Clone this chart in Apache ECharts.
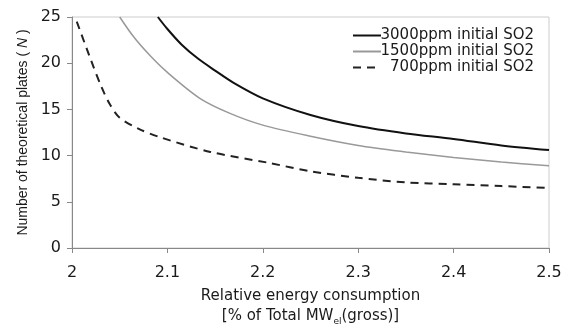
<!DOCTYPE html>
<html>
<head>
<meta charset="utf-8">
<script src="https://cdn.jsdelivr.net/npm/echarts@6/dist/echarts.min.js"></script>
<style>
  html, body { margin: 0; padding: 0; background: #fff; }
  #main { width: 565px; height: 331px; }
</style>
</head>
<body>
<div id="main"></div>
<script>
// values
const seriesNames = ['3000ppm initial SO2', '1500ppm initial SO2', '700ppm initial SO2'];

const x3000 = [2.09, 2.1, 2.115, 2.132, 2.15, 2.169, 2.2, 2.25, 2.3, 2.35, 2.4, 2.45, 2.5];
const y3000 = [25, 23.7, 22.0, 20.5, 19.2, 17.9, 16.2, 14.4, 13.2, 12.4, 11.8, 11.1, 10.6];

const x1500 = [2.05, 2.065, 2.082, 2.1, 2.134, 2.165, 2.2, 2.25, 2.3, 2.35, 2.4, 2.45, 2.5];
const y1500 = [25, 22.8, 20.8, 19.0, 16.2, 14.6, 13.3, 12.1, 11.1, 10.4, 9.8, 9.3, 8.9];

const x700 = [2.005, 2.02, 2.031, 2.04, 2.05, 2.07, 2.092, 2.145, 2.207, 2.25, 2.3, 2.35, 2.4, 2.45, 2.5];
const y700 = [24.5, 20.3, 17.4, 15.5, 14.1, 12.9, 12.0, 10.4, 9.2, 8.3, 7.6, 7.1, 6.9, 6.7, 6.5];

const xTicks = [2, 2.1, 2.2, 2.3, 2.4, 2.5];
const yTicks = [0, 5, 10, 15, 20, 25];

function pairs(xs, ys) {
    return xs.map(function (x, i) { return [x, ys[i]]; });
}

document.addEventListener('DOMContentLoaded', function () {
    drawChart();
});

function drawChart() {

    let myChart = echarts.init(document.getElementById('main'));

    let wide = 'DejaVu Sans, Liberation Sans, sans-serif';
    let narrow = 'Liberation Sans, Arial, sans-serif';
    let ink = '#1a1a1a';

    let option = {
        animation: false,
        grid: {
            left: 72,
            right: 16,
            top: 17,
            bottom: 77,
            show: true,
            borderColor: '#cccccc',
            borderWidth: 1
        },
        legend: {
            orient: 'vertical',
            left: 352,
            top: 28,
            padding: 0,
            itemGap: 1,
            itemWidth: 28,
            itemHeight: 15,
            itemStyle: { opacity: 0 },
            data: seriesNames,
            formatter: function (name) {
                return '{a|' + name + '}';
            },
            textStyle: {
                fontFamily: wide,
                fontSize: 15,
                color: ink,
                rich: {
                    a: { width: 148, align: 'right', fontSize: 15, lineHeight: 15, fontFamily: wide, color: ink }
                }
            }
        },
        xAxis: {
            type: 'value',
            min: xTicks[0],
            max: xTicks[xTicks.length - 1],
            interval: 0.1,
            name: 'Relative energy consumption\n[% of Total MW{sub|el}(gross)]',
            nameLocation: 'middle',
            nameGap: 38,
            nameTextStyle: {
                fontFamily: wide,
                fontSize: 15,
                color: ink,
                lineHeight: 20,
                rich: {
                    sub: { fontSize: 9, verticalAlign: 'bottom', padding: [7, 0, 0, 0], fontFamily: wide, color: ink }
                }
            },
            axisLine: { lineStyle: { color: '#888', width: 1 } },
            axisTick: { show: true, inside: false, length: 5, lineStyle: { color: '#888' } },
            axisLabel: {
                fontFamily: wide,
                fontSize: 16,
                color: ink,
                margin: 17,
                formatter: function (v) { return String(Math.round(v * 10) / 10); }
            },
            splitLine: { show: false }
        },
        yAxis: {
            type: 'value',
            min: yTicks[0],
            max: yTicks[yTicks.length - 1],
            interval: 5,
            name: 'Number of theoretical plates ( {i|N} )',
            nameLocation: 'middle',
            nameGap: 38,
            nameTextStyle: {
                fontFamily: narrow,
                fontSize: 14,
                color: ink,
                rich: {
                    i: { fontStyle: 'italic', fontSize: 14, fontFamily: narrow, color: ink }
                }
            },
            axisLine: { show: true, lineStyle: { color: '#888', width: 1 } },
            axisTick: { show: true, inside: false, length: 5, lineStyle: { color: '#888' } },
            axisLabel: { fontFamily: wide, fontSize: 16, color: ink, margin: 11 },
            splitLine: { show: false }
        },
        series: [
            {
                name: seriesNames[0],
                type: 'line',
                data: pairs(x3000, y3000),
                smooth: 0.3,
                symbol: 'none',
                lineStyle: { color: '#111', width: 2 },
                itemStyle: { color: '#111' }
            },
            {
                name: seriesNames[1],
                type: 'line',
                data: pairs(x1500, y1500),
                smooth: 0.3,
                symbol: 'none',
                lineStyle: { color: '#999', width: 1.5 },
                itemStyle: { color: '#999' }
            },
            {
                name: seriesNames[2],
                type: 'line',
                data: pairs(x700, y700),
                smooth: 0.3,
                symbol: 'none',
                lineStyle: { color: '#222', width: 2, type: [8, 6] },
                itemStyle: { color: '#222' }
            }
        ]
    };

    myChart.setOption(option);
}
</script>
</body>
</html>
